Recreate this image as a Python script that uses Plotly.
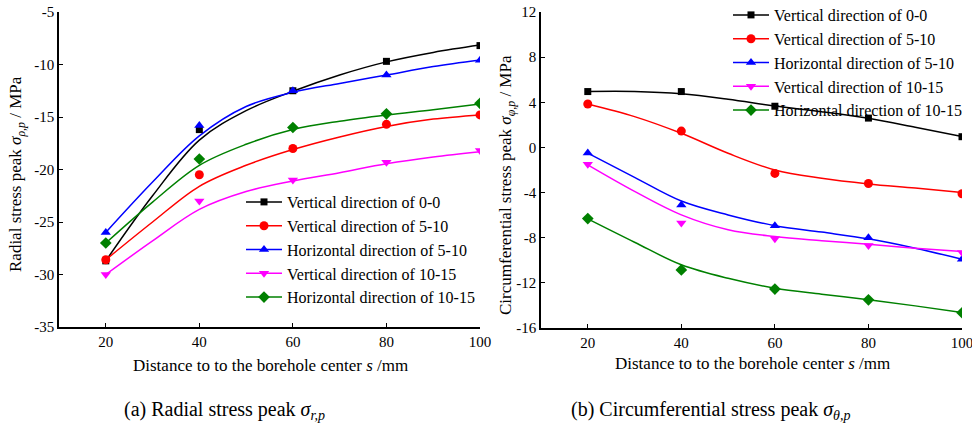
import plotly.graph_objects as go

# ---------------- data ----------------
x_pts = [20, 40, 60, 80, 100]
x_fit = [20, 30, 40, 50, 60, 70, 80, 90, 100]

series_names = ["Vertical direction of 0-0", "Vertical direction of 5-10",
                "Horizontal direction of 5-10", "Vertical direction of 10-15",
                "Horizontal direction of 10-15"]

# (a) radial stress peak, measured points
radial_v00 = [-28.7, -16.2, -12.5, -9.7, -8.2]
radial_v510 = [-28.6, -20.5, -18.0, -15.7, -14.8]
radial_h510 = [-26.0, -15.8, -12.5, -11.0, -9.6]
radial_v1015 = [-30.0, -23.0, -21.0, -19.3, -18.2]
radial_h1015 = [-27.0, -19.0, -16.0, -14.7, -13.7]

# (a) fitted curves at x_fit
radial_fit_v00 = [-28.7, -22.5, -17.2, -14.4, -12.55, -11.0, -9.75, -8.85, -8.15]
radial_fit_v510 = [-28.6, -25.0, -21.6, -19.6, -18.1, -16.9, -15.9, -15.2, -14.8]
radial_fit_h510 = [-26.0, -21.2, -16.8, -14.0, -12.65, -11.8, -11.0, -10.2, -9.57]
radial_fit_v1015 = [-30.0, -26.8, -23.8, -22.1, -21.1, -20.3, -19.45, -18.8, -18.3]
radial_fit_h1015 = [-27.0, -23.1, -19.6, -17.6, -16.2, -15.4, -14.8, -14.3, -13.76]

# (b) circumferential stress peak, measured points
circ_v00 = [4.95, 4.95, 3.65, 2.6, 0.95]
circ_v510 = [3.85, 1.45, -2.3, -3.2, -4.1]
circ_h510 = [-0.5, -5.1, -6.95, -8.0, -9.9]
circ_v1015 = [-1.5, -6.7, -8.1, -8.7, -9.3]
circ_h1015 = [-6.3, -10.85, -12.55, -13.5, -14.65]

# (b) fitted curves at x_fit
circ_fit_v00 = [4.95, 4.95, 4.75, 4.27, 3.67, 3.17, 2.58, 1.79, 0.96]
circ_fit_v510 = [3.85, 2.73, 1.25, -0.52, -2.0, -2.73, -3.23, -3.6, -4.0]
circ_fit_h510 = [-0.5, -2.65, -4.75, -5.98, -6.93, -7.5, -8.1, -8.93, -9.9]
circ_fit_v1015 = [-1.55, -3.9, -5.98, -7.3, -7.9, -8.26, -8.58, -8.93, -9.23]
circ_fit_h1015 = [-6.33, -8.4, -10.4, -11.6, -12.47, -13.0, -13.5, -14.04, -14.63]

x_ticks = [20, 40, 60, 80, 100]
x_tick_text = ["20", "40", "60", "80", "100"]
radial_ticks = [-35, -30, -25, -20, -15, -10, -5]
radial_tick_text = ["-35", "-30", "-25", "-20", "-15", "-10", "-5"]
circ_ticks = [-16, -12, -8, -4, 0, 4, 8, 12]
circ_tick_text = ["-16", "-12", "-8", "-4", "0", "4", "8", "12"]

# ---------------- styling ----------------
colors = ["#000000", "#FF0000", "#0000FF", "#FF00FF", "#008000"]
symbols = ["square", "circle", "triangle-up", "triangle-down", "diamond"]
msizes = [7, 9, 9, 9, 9]
FONT = "Liberation Serif, Times New Roman, serif"
W, H = 972, 426

def px(x):
    return x / W

def py(y):
    return 1 - y / H

fig = go.Figure()

panels = [
    ("x", "y", "legend",
     [radial_v00, radial_v510, radial_h510, radial_v1015, radial_h1015],
     [radial_fit_v00, radial_fit_v510, radial_fit_h510, radial_fit_v1015, radial_fit_h1015]),
    ("x2", "y2", "legend2",
     [circ_v00, circ_v510, circ_h510, circ_v1015, circ_h1015],
     [circ_fit_v00, circ_fit_v510, circ_fit_h510, circ_fit_v1015, circ_fit_h1015]),
]

for xa, ya, lg, pts, fits in panels:
    for i in range(5):
        fig.add_trace(go.Scatter(x=x_fit, y=fits[i], mode="lines", xaxis=xa, yaxis=ya,
                                 line=dict(color=colors[i], width=1.5, shape="spline", smoothing=1.0),
                                 showlegend=False, hoverinfo="skip"))
    for i in range(5):
        fig.add_trace(go.Scatter(x=x_pts, y=pts[i], mode="markers", xaxis=xa, yaxis=ya,
                                 marker=dict(color=colors[i], symbol=symbols[i], size=msizes[i]),
                                 showlegend=False))
    for i in range(5):
        fig.add_trace(go.Scatter(x=[None], y=[None], mode="lines+markers", xaxis=xa, yaxis=ya,
                                 name=series_names[i], legend=lg,
                                 line=dict(color=colors[i], width=1.5),
                                 marker=dict(color=colors[i], symbol=symbols[i], size=msizes[i])))

axis_common = dict(showline=True, linecolor="black", linewidth=1.5, showgrid=False, zeroline=False,
                   ticks="inside", ticklen=4, tickwidth=1.2, tickcolor="black",
                   ticklabeloverflow="allow",
                   tickfont=dict(family=FONT, size=15, color="black"), mirror=False)

fig.update_layout(
    width=W, height=H, margin=dict(l=0, r=0, t=0, b=0, autoexpand=False),
    paper_bgcolor="white", plot_bgcolor="white",
    xaxis=dict(domain=[px(59), px(480)], range=[10, 100], tickvals=x_ticks, ticktext=x_tick_text,
               anchor="y", **axis_common),
    yaxis=dict(domain=[py(327), py(12)], range=[-35, -5], tickvals=radial_ticks, ticktext=radial_tick_text,
               anchor="x", **axis_common),
    xaxis2=dict(domain=[px(541), px(962)], range=[10, 100], tickvals=x_ticks, ticktext=x_tick_text,
                anchor="y2", **axis_common),
    yaxis2=dict(domain=[py(328), py(12)], range=[-16, 12], tickvals=circ_ticks, ticktext=circ_tick_text,
                anchor="x2", **axis_common),
    legend=dict(x=px(241), y=py(185), xanchor="left", yanchor="top", bgcolor="rgba(0,0,0,0)",
                font=dict(family=FONT, size=16, color="black"), tracegroupgap=0, itemwidth=36),
    legend2=dict(x=px(728), y=py(-2), xanchor="left", yanchor="top", bgcolor="rgba(0,0,0,0)",
                 font=dict(family=FONT, size=16, color="black"), tracegroupgap=0, itemwidth=36),
    showlegend=True,
)

ann_font = dict(family=FONT, size=17, color="black")
annotations = [
    dict(text="Radial stress peak <i>σ</i><sub><i>ρ,p</i></sub> / MPa", x=px(17), y=py(174),
         textangle=-90, font=ann_font),
    dict(text="Circumferential stress peak <i>σ</i><sub><i>φ,p</i></sub> / MPa", x=px(507), y=py(185),
         textangle=-90, font=ann_font),
    dict(text="Distance to to the borehole center <i>s</i> /mm", x=px(270), y=py(365), font=ann_font),
    dict(text="Distance to to the borehole center <i>s</i> /mm", x=px(752), y=py(363), font=ann_font),
    dict(text="(a) Radial stress peak <i>σ<sub>r,p</sub></i>", x=px(224), y=py(410),
         font=dict(family=FONT, size=20, color="black")),
    dict(text="(b) Circumferential stress peak <i>σ<sub>θ,p</sub></i>", x=px(710), y=py(410),
         font=dict(family=FONT, size=20, color="black")),
]
for a in annotations:
    a.update(xref="paper", yref="paper", showarrow=False, xanchor="center", yanchor="middle")
fig.update_layout(annotations=annotations)

fig.write_html("out.html")
